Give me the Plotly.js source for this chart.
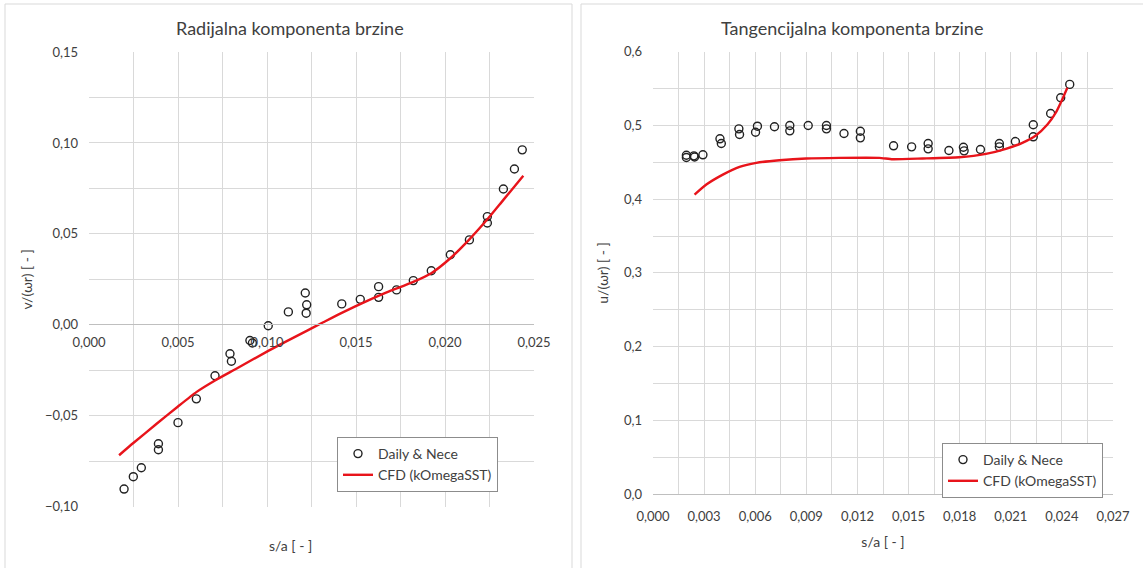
<!DOCTYPE html>
<html>
<head>
<meta charset="utf-8">
<script src="https://cdn.plot.ly/plotly-3.0.1.min.js"></script>
<style>html,body{margin:0;padding:0;background:#fff;}#chart{width:1143px;height:568px;}</style>
</head>
<body>
<div id="chart"></div>
<script>
// ---- Radial component (left) ----
const radExpX = [0.00197,0.00249,0.00294,0.00390,0.00390,0.00500,0.00603,0.00708,0.00792,0.00800,0.00904,0.00918,0.01007,0.01120,0.01215,0.01223,0.01220,0.01420,0.01524,0.01627,0.01627,0.01728,0.01822,0.01923,0.02030,0.02137,0.02238,0.02238,0.02328,0.02390,0.02434];
const radExpY = [-0.0903,-0.0835,-0.0786,-0.0654,-0.0687,-0.0538,-0.0407,-0.0280,-0.0159,-0.0200,-0.0086,-0.0100,-0.0005,0.0071,0.0175,0.0110,0.0064,0.0115,0.0140,0.0210,0.0151,0.0192,0.0243,0.0297,0.0385,0.0467,0.0595,0.0560,0.0747,0.0857,0.0962];
const radCfdX = [0.00169,0.00249,0.00380,0.00500,0.00603,0.00708,0.00830,0.01007,0.01223,0.01316,0.01420,0.01560,0.01672,0.01822,0.01923,0.02030,0.02137,0.02238,0.02328,0.02440];
const radCfdY = [-0.0717,-0.0650,-0.0544,-0.0449,-0.0370,-0.0306,-0.0240,-0.0143,-0.0033,0.0014,0.0066,0.0130,0.0178,0.0236,0.0284,0.0366,0.0470,0.0580,0.0687,0.0820];

// ---- Tangential component (right) ----
const tanExpX = [0.00196,0.00196,0.00240,0.00244,0.00293,0.00393,0.00401,0.00504,0.00508,0.00613,0.00602,0.00713,0.00803,0.00803,0.00911,0.01018,0.01018,0.01121,0.01217,0.01217,0.01412,0.01518,0.01615,0.01615,0.01737,0.01822,0.01826,0.01922,0.02033,0.02033,0.02127,0.02232,0.02232,0.02334,0.02393,0.02446];
const tanExpY = [0.4594,0.4563,0.4586,0.4570,0.4600,0.4817,0.4753,0.4952,0.4875,0.4988,0.4906,0.4980,0.4997,0.4925,0.4997,0.4997,0.4952,0.4889,0.4920,0.4830,0.4722,0.4708,0.4753,0.4681,0.4658,0.4703,0.4654,0.4672,0.4753,0.4708,0.4780,0.5007,0.4844,0.5160,0.5373,0.5554];
const tanCfdX = [0.00244,0.00313,0.00410,0.00508,0.00606,0.00742,0.00899,0.01094,0.01328,0.01406,0.01582,0.01797,0.01954,0.02071,0.02168,0.02247,0.02315,0.02364,0.02402,0.02432];
const tanCfdY = [0.4061,0.4197,0.4332,0.4437,0.4491,0.4526,0.4550,0.4559,0.4559,0.4540,0.4550,0.4567,0.4613,0.4681,0.4763,0.4862,0.5011,0.5170,0.5350,0.5509];

const expName = 'Daily & Nece';
const cfdName = 'CFD (kOmegaSST)';
const titles = ['Radijalna komponenta brzine', 'Tangencijalna komponenta brzine'];
const xTitle = 's/a [ - ]';
const yTitles = ['v/(\u03c9r) [ - ]', 'u/(\u03c9r) [ - ]'];

const W = 1143, H = 568;
const grid = '#d9d9d9';
const txt = '#404040';
const fam = 'Lato, "Open Sans", sans-serif';
const mk = {symbol:'circle-open', size:8, color:'#222', line:{width:1.4, color:'#222'}};
const ln = {color:'#e8141b', width:2.4, shape:'spline', smoothing:0.5};

const traces = [
  {x:radExpX, y:radExpY, mode:'markers', type:'scatter', name:expName, marker:mk, xaxis:'x', yaxis:'y', legend:'legend'},
  {x:radCfdX, y:radCfdY, mode:'lines', type:'scatter', name:cfdName, line:ln, xaxis:'x', yaxis:'y', legend:'legend'},
  {x:tanExpX, y:tanExpY, mode:'markers', type:'scatter', name:expName, marker:mk, xaxis:'x2', yaxis:'y2', legend:'legend2'},
  {x:tanCfdX, y:tanCfdY, mode:'lines', type:'scatter', name:cfdName, line:ln, xaxis:'x2', yaxis:'y2', legend:'legend2'}
];

const px = v => v / W, py = v => 1 - v / H;
const tf = {family:fam, size:13, color:txt};

const layout = {
  width:W, height:H,
  margin:{l:0, r:0, t:0, b:0},
  paper_bgcolor:'#fff', plot_bgcolor:'#fff',
  separators:', ',
  font:{family:fam, color:txt},
  showlegend:true,
  xaxis:{domain:[px(89), px(534)], range:[0,0.025], dtick:0.005, tick0:0, tickformat:'.3f',
    anchor:'free', position:py(324.3), showline:true, linecolor:'#bfbfbf', linewidth:1,
    showgrid:true, gridcolor:grid, zeroline:false, ticks:'', tickfont:tf, ticklabelstandoff:6,
    minor:{dtick:0.0025, showgrid:true, gridcolor:grid}, fixedrange:true},
  yaxis:{domain:[py(506.7), py(52)], range:[-0.10,0.15], dtick:0.05, tick0:0, tickformat:'.2f',
    anchor:'x', showgrid:true, gridcolor:grid, zeroline:false, ticks:'', showline:false, tickfont:tf,
    ticklabelstandoff:10,
    minor:{dtick:0.025, showgrid:true, gridcolor:grid},
    title:{text:yTitles[0], font:{family:fam, size:14, color:txt}, standoff:8}},
  xaxis2:{domain:[px(653), px(1113)], range:[0,0.027], dtick:0.003, tick0:0, tickformat:'.3f',
    anchor:'y2', showline:true, linecolor:'#bfbfbf', linewidth:1, showgrid:true, gridcolor:grid,
    zeroline:false, ticks:'', tickfont:tf, ticklabelstandoff:10,
    minor:{dtick:0.0015, showgrid:true, gridcolor:grid},
    title:{text:xTitle, font:{family:fam, size:14, color:txt}, standoff:14}},
  yaxis2:{domain:[py(494.3), py(51.5)], range:[0,0.6], dtick:0.1, tick0:0, tickformat:'.1f',
    anchor:'x2', showgrid:true, gridcolor:grid, zeroline:false, ticks:'', showline:false, tickfont:tf,
    ticklabelstandoff:10,
    minor:{dtick:0.05, showgrid:true, gridcolor:grid},
    title:{text:yTitles[1], font:{family:fam, size:14, color:txt}, standoff:12}},
  legend:{x:px(337), y:py(437), xanchor:'left', yanchor:'top', bgcolor:'#fff', bordercolor:'#8c8c8c',
    borderwidth:1, font:{family:fam, size:14, color:txt}, traceorder:'normal', itemwidth:30},
  legend2:{x:px(942), y:py(443), xanchor:'left', yanchor:'top', bgcolor:'#fff', bordercolor:'#8c8c8c',
    borderwidth:1, font:{family:fam, size:14, color:txt}, traceorder:'normal', itemwidth:30},
  annotations:[
    {text:titles[0], xref:'paper', yref:'paper', x:px(290), y:py(28), showarrow:false, xanchor:'center', yanchor:'middle', font:{family:fam, size:18, color:txt}},
    {text:titles[1], xref:'paper', yref:'paper', x:px(852), y:py(28), showarrow:false, xanchor:'center', yanchor:'middle', font:{family:fam, size:18, color:txt}},
    {text:xTitle, xref:'paper', yref:'paper', x:px(290), y:py(545), showarrow:false, xanchor:'center', yanchor:'middle', font:{family:fam, size:14, color:txt}}
  ],
  shapes:[
    {type:'rect', xref:'paper', yref:'paper', x0:px(5), x1:px(572), y0:-0.05, y1:py(4), line:{color:'#d9d9d9', width:1}, layer:'below'},
    {type:'rect', xref:'paper', yref:'paper', x0:px(581), x1:1.05, y0:-0.05, y1:py(4), line:{color:'#d9d9d9', width:1}, layer:'below'}
  ]
};

Plotly.newPlot('chart', traces, layout, {displayModeBar:false, staticPlot:true});
</script>
</body>
</html>
